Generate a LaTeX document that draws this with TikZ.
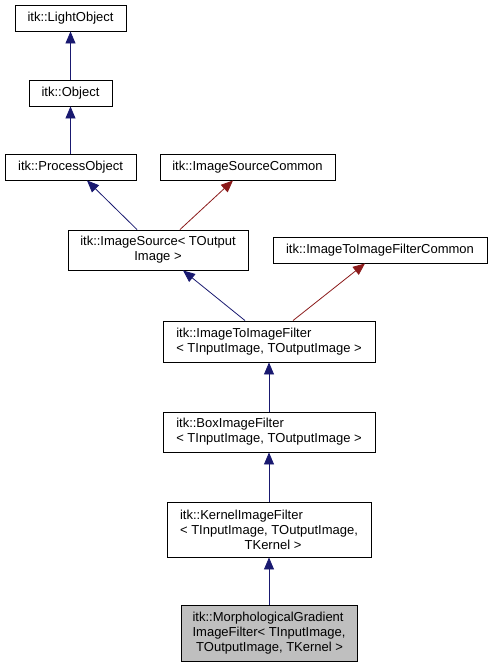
\documentclass[tikz,border=0pt]{standalone}
\usepackage{fontspec}
\setmainfont{Liberation Sans}
\usepackage{calc}
\usepackage{tikz}
\usetikzlibrary{arrows.meta}
\definecolor{inheritblue}{RGB}{25,25,112}
\definecolor{usedred}{RGB}{139,26,26}
\definecolor{selfgrey}{RGB}{191,191,191}

\begin{document}
\begin{tikzpicture}[x=1pt,y=-1pt,
  plainbox/.style={draw=black,fill=white,line width=0.9pt,inner sep=0pt,
    font=\fontsize{13}{15}\selectfont},
  cls/.style={plainbox,align=left},
  clsmid/.style={plainbox,align=center},
  self/.style={cls,fill=selfgrey},
  pub/.style={draw=inheritblue,line width=0.8pt,-{Triangle[length=12pt,width=10pt]},color=inheritblue},
  used/.style={draw=usedred,line width=0.8pt,-{Triangle[length=12pt,width=10pt]},color=usedred}]
\useasboundingbox (0,0) rectangle (492,667);
\node[cls,minimum width=111pt,minimum height=26pt] (light) at (70.5,18) {itk::LightObject};
\node[cls,minimum width=83pt,minimum height=26pt] (obj) at (70.5,93) {itk::Object};
\node[cls,minimum width=131pt,minimum height=26pt] (proc) at (70.5,167) {itk::ProcessObject};
\node[cls,minimum width=175pt,minimum height=26pt] (iscom) at (247.5,167) {itk::ImageSourceCommon};
\node[clsmid,minimum width=180pt,minimum height=40pt] (isrc) at (158,250) {itk::ImageSource< TOutput\\Image >};
\node[cls,minimum width=214pt,minimum height=26pt] (itoicom) at (380,250) {itk::ImageToImageFilterCommon};
\node[cls,minimum width=212pt,minimum height=41pt] (itoi) at (269,341.5) {itk::ImageToImageFilter\\< TInputImage, TOutputImage >};
\node[cls,minimum width=212pt,minimum height=40pt] (box) at (269,432) {itk::BoxImageFilter\\< TInputImage, TOutputImage >};
\node[clsmid,minimum width=204pt,minimum height=55pt] (kern) at (269,529.5) {\makebox[\widthof{< TInputImage, TOutputImage,}][l]{itk::KernelImageFilter}\\< TInputImage, TOutputImage,\\\hspace*{8pt}TKernel >};
\node[self,minimum width=176pt,minimum height=56pt] (morph) at (269,633) {itk::MorphologicalGradient\\ImageFilter< TInputImage,\\\ TOutputImage, TKernel >};
\draw[pub] (obj) -- (light);
\draw[pub] (proc) -- (obj);
\draw[pub] ([xshift=-21pt]isrc.north) -- ([xshift=16.5pt]proc.south);
\draw[used] ([xshift=22pt]isrc.north) -- ([xshift=-14.5pt]iscom.south);
\draw[pub] ([xshift=-24pt]itoi.north) -- ([xshift=25pt]isrc.south);
\draw[used] ([xshift=24pt]itoi.north) -- ([xshift=-15pt]itoicom.south);
\draw[pub] (box) -- (itoi);
\draw[pub] (kern) -- (box);
\draw[pub] (morph) -- (kern);
\end{tikzpicture}
\end{document}
